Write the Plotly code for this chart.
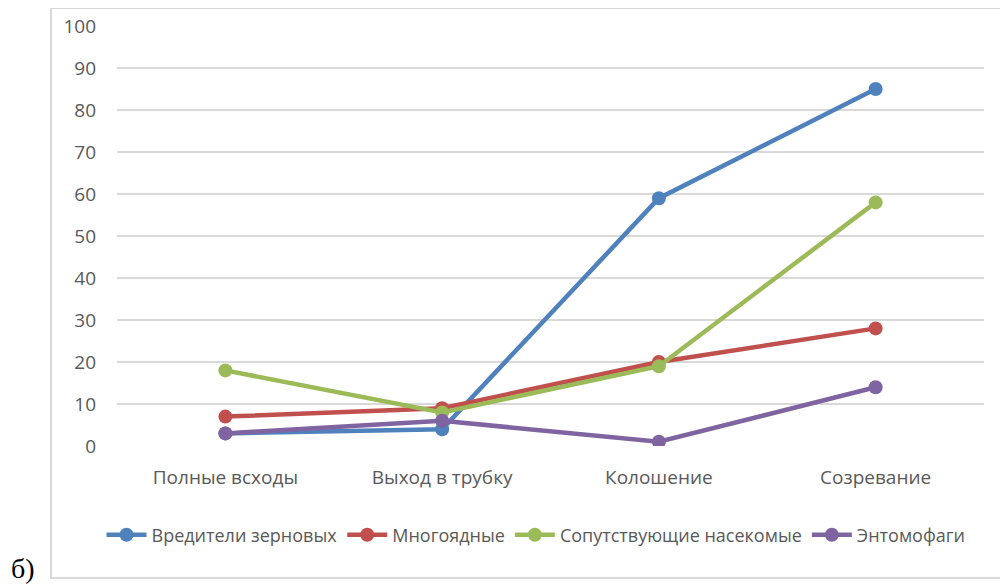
import plotly.graph_objects as go

# фазы развития
phases = ["Полные всходы", "Выход в трубку", "Колошение", "Созревание"]

pests_grain = [3, 4, 59, 85]
polyphagous = [7, 9, 20, 28]
accompanying = [18, 8, 19, 58]
entomophages = [3, 6, 1, 14]

y_ticks = list(range(0, 101, 10))

series = [
    ("Вредители зерновых", pests_grain, "#4F81BD"),
    ("Многоядные", polyphagous, "#C0504D"),
    ("Сопутствующие насекомые", accompanying, "#9BBB59"),
    ("Энтомофаги", entomophages, "#8064A2"),
]

fig = go.Figure()
for name, vals, color in series:
    fig.add_trace(go.Scatter(
        x=phases, y=vals, name=name, mode="lines+markers",
        line=dict(color=color, width=4.5),
        marker=dict(color=color, size=14),
    ))

font_main = "Open Sans, DejaVu Sans, sans-serif"

# страница имеет отступ 8px, поэтому фигура чуть меньше окна
fig.update_layout(
    width=1000, height=579,
    margin=dict(l=109, r=24, t=18, b=141),
    paper_bgcolor="white", plot_bgcolor="white",
    font=dict(family=font_main, size=19, color="#595959"),
    showlegend=True,
    legend=dict(
        orientation="h", xref="container", yref="container",
        x=0.528, xanchor="center", y=(579 - 527) / 579, yanchor="middle",
        font=dict(size=18, color="#595959"), itemwidth=40,
    ),
    xaxis=dict(
        type="category", showgrid=False, zeroline=False, showline=False,
        ticks="", ticklabelstandoff=18, range=[-0.5, 3.5], automargin=False,
    ),
    yaxis=dict(
        range=[0, 100], tickvals=y_ticks, showgrid=True, gridcolor="#D9D9D9",
        gridwidth=1.5, zeroline=False, showline=False, ticks="",
        ticklabelstandoff=20, fixedrange=True, automargin=False,
    ),
)

# рамка вокруг диаграммы
fig.add_shape(
    type="rect", xref="paper", yref="paper",
    x0=(51 - 117) / 867, x1=(1005 - 117) / 867,
    y0=(446 - 578) / 420, y1=(446 - 8) / 420,
    line=dict(color="#D9D9D9", width=2), fillcolor="rgba(0,0,0,0)", layer="below",
)

fig.add_annotation(
    text="б)", xref="paper", yref="paper",
    x=(9 - 117) / 867, y=(446 - 568) / 420, xanchor="left", yanchor="middle",
    showarrow=False, font=dict(family="Liberation Serif, serif", size=28, color="black"),
)

fig.write_html("out.html")
